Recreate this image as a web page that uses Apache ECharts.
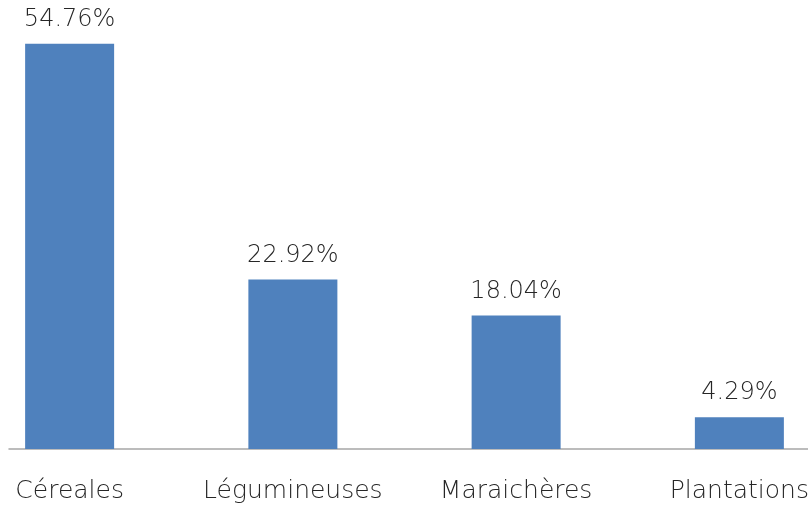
<!DOCTYPE html>
<html><head><meta charset="utf-8">
<script src="https://cdn.jsdelivr.net/npm/echarts@6/dist/echarts.min.js"></script>
<style>html,body{margin:0;padding:0;background:#fff}#c{width:808px;height:511px}</style>
</head><body><div id="c"></div>
<script>
var categories = ['Céreales', 'Légumineuses', 'Maraichères', 'Plantations'];
var values = [54.76, 22.92, 18.04, 4.29];

var chart = echarts.init(document.getElementById('c'), null, {renderer: 'canvas'});
var font = '"DejaVu Sans ExtraLight", "DejaVu Sans Light", "DejaVu Sans", sans-serif';
chart.setOption({
  animation: false,
  backgroundColor: '#ffffff',
  grid: [
    {left: -42, width: 893, top: 5, bottom: 62, outerBoundsMode: 'none'},
    {left: 9, right: 0, top: 5, bottom: 62, outerBoundsMode: 'none'}
  ],
  xAxis: [
    {type: 'category', gridIndex: 0, data: categories,
     axisLine: {show: false}, axisTick: {show: false},
     axisLabel: {interval: 0, hideOverlap: false, color: '#262626', fontSize: 25, fontWeight: 200, fontFamily: font, margin: 30}},
    {type: 'category', gridIndex: 1, data: categories,
     axisLine: {show: true, lineStyle: {color: '#A6A6A6', width: 1.5}},
     axisTick: {show: false}, axisLabel: {show: false}}
  ],
  yAxis: [
    {type: 'value', gridIndex: 0, min: 0, max: 60, show: false, splitLine: {show: false}},
    {type: 'value', gridIndex: 1, min: 0, max: 60, show: false, splitLine: {show: false}}
  ],
  series: [{
    type: 'bar', xAxisIndex: 0, yAxisIndex: 0, data: values, barWidth: 89,
    itemStyle: {color: '#4F81BD'},
    label: {show: true, position: 'top', distance: 12, color: '#262626', fontSize: 24, fontWeight: 200, fontFamily: font,
            formatter: function(p){ return p.value.toFixed(2) + '%'; }}
  }]
});
</script></body></html>
